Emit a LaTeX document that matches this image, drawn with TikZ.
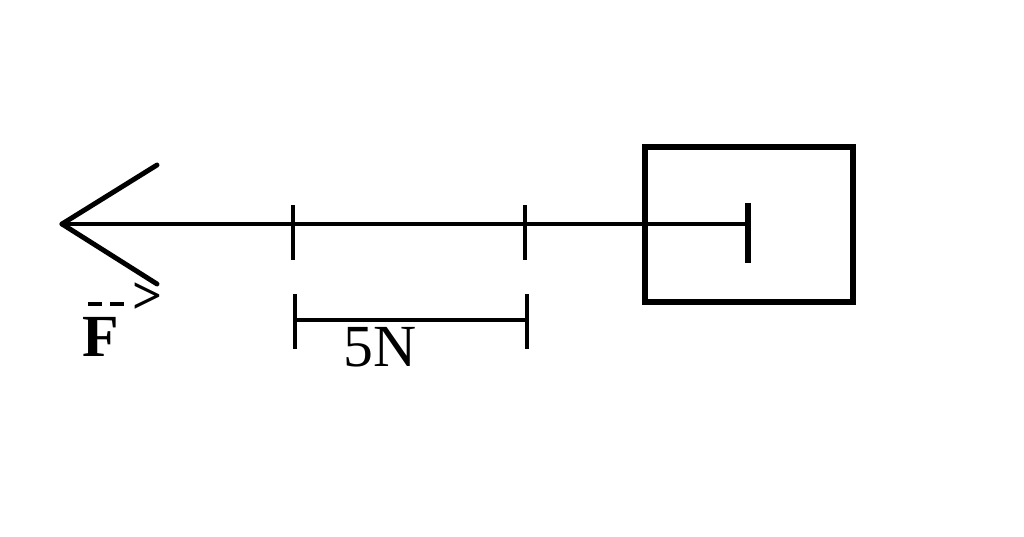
\documentclass[tikz,border=0pt]{standalone}
\usepackage{fontspec}
\setmainfont{Liberation Serif}
\begin{document}
\begin{tikzpicture}[x=0.02cm,y=-0.02cm,
	bar/.style={line width=2.8pt},
	lbl/.style={inner sep=0pt,font=\fontsize{34}{34}\selectfont}]
	\useasboundingbox (0,0) rectangle (1024,537);
	% Kraftpfeil
	\coordinate (tip) at (62,224);
	\coordinate (tail) at (748,224);
	\draw[bar] (tip) -- (tail);
	\draw[bar,line cap=round] (tip) -- (157,165);
	\draw[bar,line cap=round] (tip) -- (157,284);
	\draw[line width=3.6pt] (748,203) -- (748,263);
	% Teilstriche
	\foreach \x in {293,525}
		\draw[line width=2pt] (\x,205) -- (\x,260);
	% Koerper
	\draw[line width=3.4pt] (645,147) rectangle (853,302);
	% Massstab
	\coordinate (s1) at (295,320);
	\coordinate (s2) at (527,320);
	\draw[bar] (s1) -- (s2);
	\draw[line width=2pt] (295,294) -- (295,349);
	\draw[line width=2pt] (527,294) -- (527,349);
	\node[lbl] (scale) at (380,347) {5N};
	% Beschriftung
	\node[lbl] (force) at (101,337) {\textbf{F}};
	\draw[line width=2.2pt] (88,304) -- (102,304);
	\draw[line width=2.2pt] (110,304) -- (124,304);
	\node[inner sep=0pt,font=\fontsize{30}{30}\selectfont] (gt) at (148,298) {\textbf{>}};
\end{tikzpicture}
\end{document}
